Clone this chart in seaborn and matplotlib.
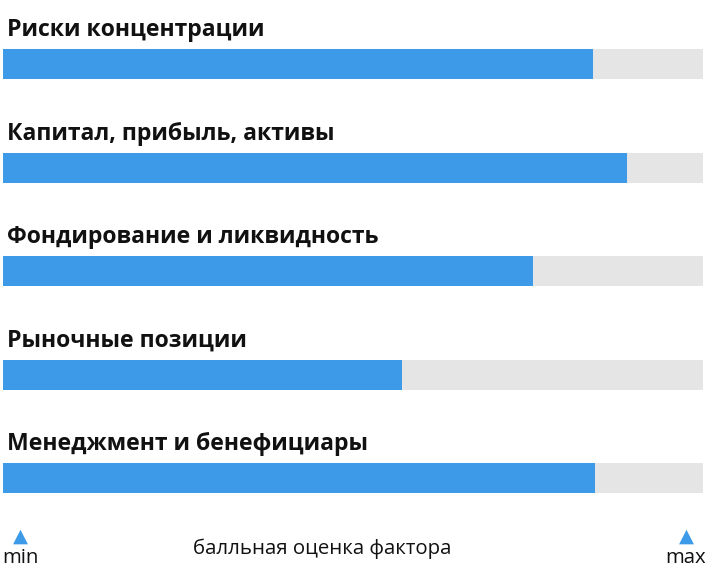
import numpy as np
import pandas as pd
import matplotlib
matplotlib.use("Agg")
import matplotlib.pyplot as plt
import seaborn as sns

factors = ["Риски концентрации", "Капитал, прибыль, активы",
           "Фондирование и ликвидность", "Рыночные позиции",
           "Менеджмент и бенефициары"]
scores = [8.42, 8.91, 7.57, 5.69, 8.46]
max_score = 10.0
axis_label = "балльная оценка фактора"
end_labels = ["min", "max"]

BLUE = "#3d9ae8"
GRAY = "#e5e5e5"

sns.set_style("white")
plt.rcParams['font.family'] = ['Open Sans', 'DejaVu Sans']

df = pd.DataFrame({"factor": factors, "score": scores,
                   "full": [max_score] * len(factors)})

W, H = 706, 575
fig = plt.figure(figsize=(W / 100, H / 100), dpi=100)
ax = fig.add_axes([0, 0, 1, 1])

sns.barplot(data=df, y="factor", x="full", color=GRAY, width=0.29,
            orient="h", ax=ax, saturation=1, linewidth=0)
sns.barplot(data=df, y="factor", x="score", color=BLUE, width=0.29,
            orient="h", ax=ax, saturation=1, linewidth=0)

# pixel layout: bars from x=3.3 to 703.3, centers at 64 + 103.6*i
x0, span = 3.3, 700.0
ax.set_xlim(-x0 / span * max_score, (W - x0) / span * max_score)
pitch, c0 = 103.6, 64.0
ax.set_ylim((H - c0) / pitch, -c0 / pitch)
ax.axis("off")

for i, name in enumerate(factors):
    ax.text(0.05, i - 28 / pitch, name, ha="left", va="baseline",
            fontsize=16.6, fontweight="bold", color="#111111")

# bottom scale hints
px = lambda x, y: (x / W, 1 - y / H)
for xp, lab in zip([20, 686], end_labels):
    fig.text(*px(xp, 536), "▲", ha="center", va="center", color=BLUE,
             fontsize=14, family="DejaVu Sans")
    fig.text(*px(xp, 558), lab, ha="center", va="center",
             fontsize=14.7, color="#111111")
fig.text(*px(322.5, 549), axis_label, ha="center", va="center",
         fontsize=14.7, color="#111111")

fig.savefig("out.png", dpi=100)
